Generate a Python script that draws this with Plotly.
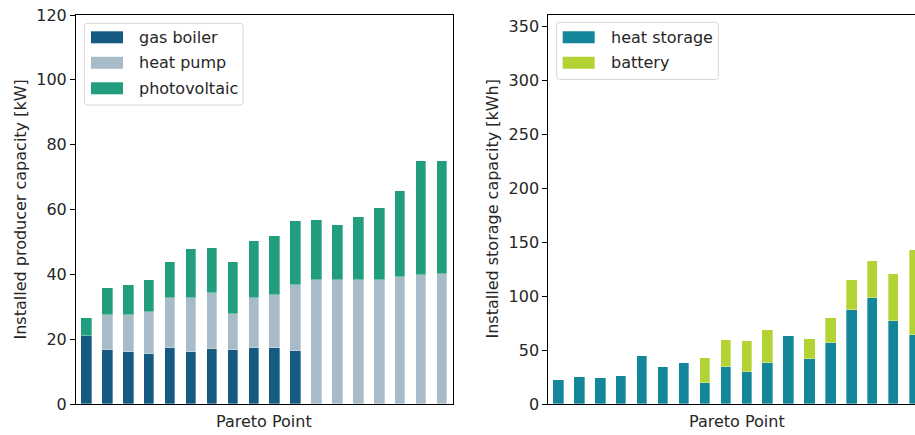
import plotly.graph_objects as go
from plotly.subplots import make_subplots

# Pareto points (one bar per point)
pareto_points = list(range(18))

# Installed producer capacity [kW]
gas_boiler = [21.0, 16.6, 16.0, 15.4, 17.2, 16.0, 16.9, 16.6, 17.2, 17.2, 16.3,
              0, 0, 0, 0, 0, 0, 0]
heat_pump = [0, 10.9, 11.5, 13.0, 15.5, 16.7, 17.3, 11.3, 15.5, 16.4, 20.3,
             38.4, 38.4, 38.4, 38.1, 39.3, 39.8, 40.2]
photovoltaic = [5.6, 8.2, 9.1, 9.8, 11.1, 15.1, 13.9, 15.9, 17.5, 18.1, 19.8,
                18.3, 16.8, 19.2, 22.3, 26.5, 35.1, 34.7]

# Installed storage capacity [kWh]
heat_storage = [22.5, 24.7, 23.7, 25.6, 44.4, 33.9, 38.2, 19.4, 33.9, 29.3, 38.2,
                62.6, 41.9, 56.4, 87.2, 98.0, 77.3, 63.8]
battery = [0, 0, 0, 0, 0, 0, 0, 23.1, 25.3, 28.9, 30.2,
           0, 18.2, 23.4, 28.1, 34.2, 43.2, 79.2]

producer_series = [("gas boiler", gas_boiler, "#155a80"),
                   ("heat pump", heat_pump, "#a7bbc8"),
                   ("photovoltaic", photovoltaic, "#229e7e")]
storage_series = [("heat storage", heat_storage, "#138799"),
                  ("battery", battery, "#b3d335")]

W, H = 915, 435
FONT = "DejaVu Sans"
TXT = "#262626"


def px(x):
    return x / W


def py(y):
    return 1 - y / H


fig = make_subplots(rows=1, cols=2)

for name, vals, col in producer_series:
    fig.add_trace(go.Bar(x=pareto_points, y=vals, name=name, width=0.5,
                         marker=dict(color=col, line=dict(color="rgba(255,255,255,0.55)", width=0.6)),
                         showlegend=False), row=1, col=1)
for name, vals, col in storage_series:
    fig.add_trace(go.Bar(x=pareto_points, y=vals, name=name, width=0.5,
                         marker=dict(color=col, line=dict(color="rgba(255,255,255,0.55)", width=0.6)),
                         showlegend=False), row=1, col=2)

ax_y = [py(404), py(15)]
common_x = dict(showticklabels=False, ticks="", showgrid=False, zeroline=False,
                showline=True, linecolor="black", linewidth=1, automargin=False)
common_y = dict(ticks="outside", ticklen=5, tickwidth=1, tickcolor="black",
                showgrid=False, zeroline=False, showline=True, linecolor="black",
                linewidth=1, automargin=False, tickfont=dict(size=16, color=TXT))
fig.update_layout(
    width=W, height=H, margin=dict(l=0, r=0, t=0, b=0, autoexpand=False),
    barmode="stack", bargap=0, plot_bgcolor="white", paper_bgcolor="white",
    font=dict(family=FONT, size=16, color=TXT),
    xaxis=dict(domain=[px(76), px(452.5)], range=[-0.5, 17.5], mirror=True, **common_x),
    xaxis2=dict(domain=[px(548.3), 1.0], range=[-0.5, 17.03], mirror=True, **common_x),
    yaxis=dict(domain=ax_y, range=[0, 120], tickvals=[0, 20, 40, 60, 80, 100, 120],
               mirror=True, **common_y),
    yaxis2=dict(domain=ax_y, range=[0, 360.6], tickvals=[0, 50, 100, 150, 200, 250, 300, 350],
                mirror=False, **common_y),
)

annotations = []
shapes = []

# axis titles
annotations.append(dict(text="Installed producer capacity [kW]", x=px(20), y=py(209.5),
                        xref="paper", yref="paper", textangle=-90, showarrow=False,
                        xanchor="center", yanchor="middle", font=dict(size=16, color=TXT)))
annotations.append(dict(text="Installed storage capacity [kWh]", x=px(492), y=py(209.5),
                        xref="paper", yref="paper", textangle=-90, showarrow=False,
                        xanchor="center", yanchor="middle", font=dict(size=16, color=TXT)))
annotations.append(dict(text="Pareto Point", x=px(264), y=py(421.5), xref="paper", yref="paper",
                        showarrow=False, xanchor="center", yanchor="middle",
                        font=dict(size=16, color=TXT)))
annotations.append(dict(text="Pareto Point", x=px(736.5), y=py(421.5), xref="paper", yref="paper",
                        showarrow=False, xanchor="center", yanchor="middle",
                        font=dict(size=16, color=TXT)))


def rounded_box(x0, y0, x1, y1, r=3):
    return (f"M{px(x0 + r)},{py(y0)} L{px(x1 - r)},{py(y0)} "
            f"Q{px(x1)},{py(y0)} {px(x1)},{py(y0 + r)} L{px(x1)},{py(y1 - r)} "
            f"Q{px(x1)},{py(y1)} {px(x1 - r)},{py(y1)} L{px(x0 + r)},{py(y1)} "
            f"Q{px(x0)},{py(y1)} {px(x0)},{py(y1 - r)} L{px(x0)},{py(y0 + r)} "
            f"Q{px(x0)},{py(y0)} {px(x0 + r)},{py(y0)} Z")


def legend(entries, box, sw_x0, text_x, row_y0, row_step):
    shapes.append(dict(type="path", path=rounded_box(*box), xref="paper", yref="paper",
                       fillcolor="rgba(255,255,255,0.8)", line=dict(color="#d6d6d6", width=1)))
    for i, (name, _, col) in enumerate(entries):
        cy = row_y0 + i * row_step
        shapes.append(dict(type="rect", xref="paper", yref="paper",
                           x0=px(sw_x0), x1=px(sw_x0 + 32), y0=py(cy + 6), y1=py(cy - 6),
                           fillcolor=col, line=dict(width=0)))
        annotations.append(dict(text=name, x=px(text_x), y=py(cy), xref="paper", yref="paper",
                                showarrow=False, xanchor="left", yanchor="middle",
                                font=dict(size=16, color=TXT)))


legend(producer_series, (84.3, 23.3, 243, 105), 91, 136.5, 37.3, 25.5)
legend(storage_series, (556.7, 22.3, 718.3, 79.5), 562.7, 608.5, 37.3, 25.5)

fig.update_layout(annotations=annotations, shapes=shapes)
fig.write_html("out.html")
